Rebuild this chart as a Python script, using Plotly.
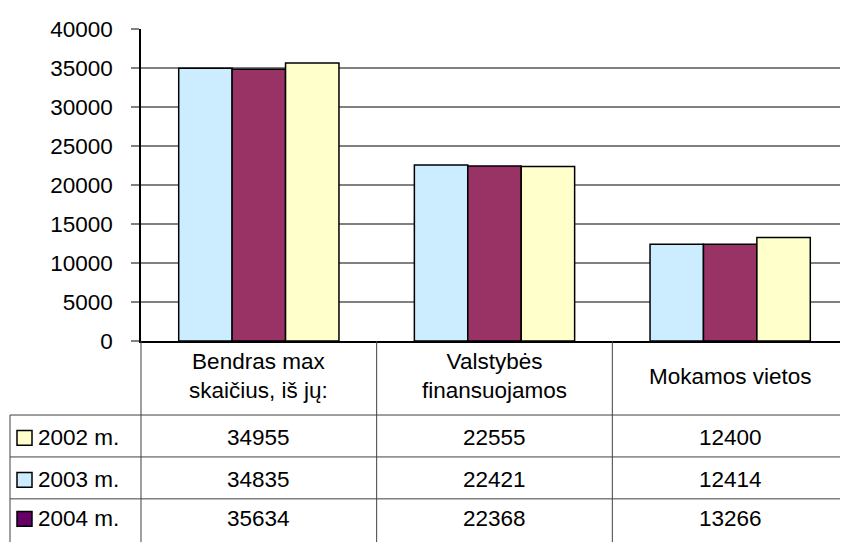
import plotly.graph_objects as go

# kategorijos ir duomenys
categories = ["Bendras max<br>skaičius, iš jų:", "Valstybės<br>finansuojamos", "Mokamos vietos"]
years = ["2002 m.", "2003 m.", "2004 m."]
v2002 = [34955, 22555, 12400]
v2003 = [34835, 22421, 12414]
v2004 = [35634, 22368, 13266]
y_ticks = [0, 5000, 10000, 15000, 20000, 25000, 30000, 35000, 40000]

bar_colors = ["#CCECFF", "#993366", "#FFFFCC"]   # stulpeliu spalvos
key_colors = ["#FFFFCC", "#CCECFF", "#660066"]   # lenteles legendos spalvos
series = [v2002, v2003, v2004]

OFF = 8  # puslapio body parastes
W, H = 848 - OFF, 545 - OFF
L, T = 141 - OFF, 29 - OFF
PW, PH = W - L, H - T


def py(p):
    # ekrano pikseliai -> paper y
    return 1 - (p - OFF - T) / PH


def px(p):
    # ekrano pikseliai -> paper x
    return (p - OFF - L) / PW


fig = go.Figure()
for vals, col, name in zip(series, bar_colors, years):
    fig.add_trace(go.Bar(x=list(range(len(categories))), y=vals, name=name,
                         marker=dict(color=col, line=dict(color="black", width=1.5))))

font = dict(family="Liberation Sans, Arial, sans-serif", size=22.5, color="black")
line_col = "#404040"
shapes, annos = [], []

# lenteles linijos
for yy in [425, 468, 511]:
    shapes.append(dict(type="line", xref="paper", yref="paper", x0=px(10), x1=1.02,
                       y0=py(yy), y1=py(yy), line=dict(color=line_col, width=1)))
shapes.append(dict(type="line", xref="paper", yref="paper", x0=px(10), x1=px(10),
                   y0=py(425), y1=-0.02, line=dict(color=line_col, width=1)))
shapes.append(dict(type="line", xref="paper", yref="paper", x0=0, x1=0,
                   y0=py(349), y1=-0.02, line=dict(color=line_col, width=1)))
for b in [0.5, 1.5]:
    shapes.append(dict(type="line", xref="x", yref="paper", x0=b, x1=b,
                       y0=py(349), y1=-0.02, line=dict(color=line_col, width=1)))

# kategoriju pavadinimai
for i, c in enumerate(categories):
    annos.append(dict(x=i, y=py(385), xref="x", yref="paper", text=c, showarrow=False,
                      font=font, align="center", yanchor="middle"))

# lenteles eilutes
row_y = [448, 491, 531]
for r, (name, vals, kc) in enumerate(zip(years, series, key_colors)):
    yc = row_y[r]
    shapes.append(dict(type="rect", xref="paper", yref="paper", x0=px(17), x1=px(32),
                       y0=py(yc + 8), y1=py(yc - 7), fillcolor=kc,
                       line=dict(color="black", width=1.5)))
    annos.append(dict(x=px(36), y=py(yc), xref="paper", yref="paper", text=name,
                      showarrow=False, font=font, xanchor="left", yanchor="middle"))
    for i, v in enumerate(vals):
        annos.append(dict(x=i, y=py(yc), xref="x", yref="paper", text=str(v),
                          showarrow=False, font=font, yanchor="middle"))

fig.update_layout(
    width=W, height=H, margin=dict(l=L, r=0, t=T, b=0),
    paper_bgcolor="white", plot_bgcolor="white",
    barmode="group", bargap=0.32, bargroupgap=0, showlegend=False,
    font=font, shapes=shapes, annotations=annos,
    xaxis=dict(range=[-0.5, 2.5], showticklabels=False, showgrid=False, zeroline=False,
               showline=True, linecolor="black", linewidth=1.5, ticks="", anchor="y"),
    yaxis=dict(domain=[py(349), 1], range=[0, 40000], tickvals=y_ticks,
               ticktext=[str(t) for t in y_ticks],
               showgrid=True, gridcolor="#808080", gridwidth=1.5, zeroline=False,
               showline=True, linecolor="black", linewidth=1.5,
               ticks="outside", ticklen=8, tickcolor="#808080", tickwidth=1.5,
               ticklabelstandoff=14, tickfont=font),
)

fig.write_html("out.html")
